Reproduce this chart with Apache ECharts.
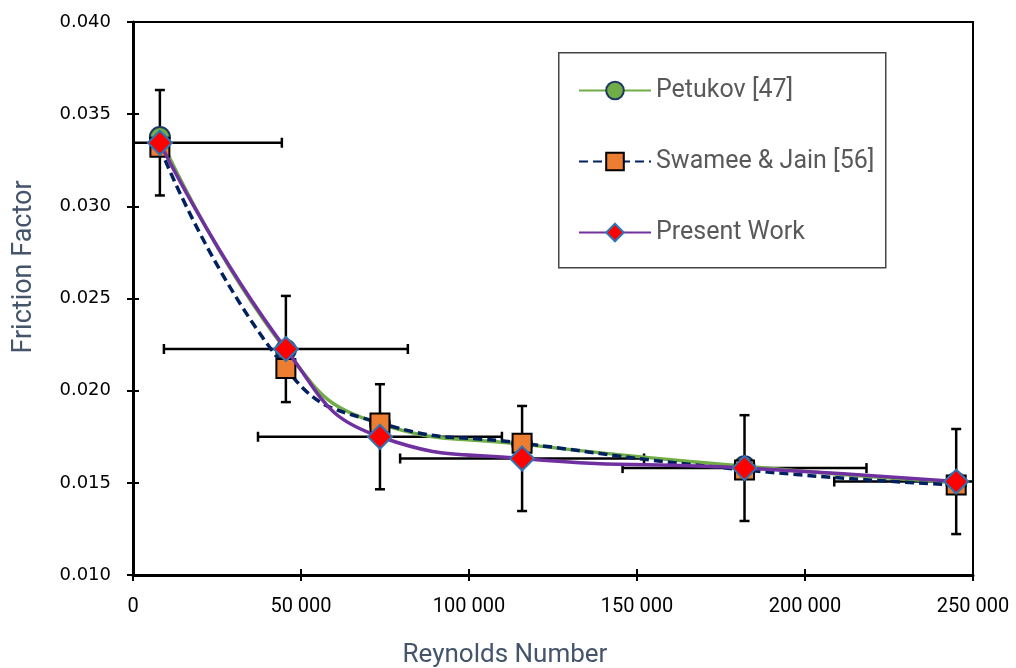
<!DOCTYPE html>
<html>
<head>
<meta charset="utf-8">
<script src="https://cdn.jsdelivr.net/npm/echarts@6/dist/echarts.min.js"></script>
<style>
  html, body { margin: 0; padding: 0; background: #fff; }
  #main { width: 1016px; height: 668px; }
</style>
</head>
<body>
<div id="main"></div>
<script>
// Reynolds number of each test point
const reynolds = [8000, 45500, 73500, 115800, 182000, 245000];
// friction factor, three sources
const petukov = [0.03376, 0.0222, 0.0182, 0.0171, 0.0159, 0.0150];
const swamee = [0.0332, 0.0212, 0.01825, 0.01715, 0.0157, 0.01488];
const present = [0.03345, 0.02226, 0.0175, 0.01632, 0.0158, 0.01507];
// error bar half widths (present work)
const xErr = [36300, 36300, 36300, 36300, 36300, 36300];
const yErr = [0.00286, 0.00288, 0.00285, 0.00285, 0.00287, 0.00285];
// axis ticks
const yTicks = { min: 0.010, max: 0.040, step: 0.005 };
const xTicks = { min: 0, max: 250000, step: 50000 };

const chart = echarts.init(document.getElementById('main'));

const pairs = (ys) => reynolds.map((x, i) => [x, ys[i]]);

const fmtX = (v) => (v === 0 ? '0' : (v / 1000) + ' 000');

function errorBars(params, api) {
  const x = api.value(0), y = api.value(1);
  const dx = api.value(2), dy = api.value(3);
  const top = api.coord([x, y + dy]);
  const bot = api.coord([x, y - dy]);
  const left = api.coord([x - dx, y]);
  const right = api.coord([x + dx, y]);
  const c = 5;
  const style = { stroke: '#000', lineWidth: 2.5 };
  const line = (x1, y1, x2, y2) => ({ type: 'line', shape: { x1, y1, x2, y2 }, style });
  return {
    type: 'group',
    children: [
      line(top[0], top[1], bot[0], bot[1]),
      line(top[0] - c, top[1], top[0] + c, top[1]),
      line(bot[0] - c, bot[1], bot[0] + c, bot[1]),
      line(left[0], left[1], right[0], right[1]),
      line(left[0], left[1] - c, left[0], left[1] + c),
      line(right[0], right[1] - c, right[0], right[1] + c)
    ]
  };
}

const baseX = {
  type: 'value', min: xTicks.min, max: xTicks.max, interval: xTicks.step,
  splitLine: { show: false }
};
const baseY = {
  type: 'value', min: yTicks.min, max: yTicks.max, interval: yTicks.step,
  splitLine: { show: false }
};

const option = {
  animation: false,
  backgroundColor: '#fff',
  grid: {
    left: 133, right: 43, top: 22, bottom: 93,
    show: true, borderColor: '#000', borderWidth: 2
  },
  xAxis: [
    Object.assign({}, baseX, {
      axisLine: { lineStyle: { color: '#000', width: 3 } },
      axisTick: { length: 6, lineStyle: { color: '#000', width: 2 } },
      axisLabel: {
        margin: 22, formatter: fmtX, color: '#000',
        fontFamily: 'Roboto', fontSize: 20
      }
    }),
    Object.assign({}, baseX, {
      position: 'bottom',
      axisLine: { show: false },
      axisTick: { inside: true, length: 6, lineStyle: { color: '#000', width: 2 } },
      axisLabel: { show: false }
    })
  ],
  yAxis: [
    Object.assign({}, baseY, {
      axisLine: { show: true, lineStyle: { color: '#000', width: 3 } },
      axisTick: { show: true, length: 6, lineStyle: { color: '#000', width: 2 } },
      axisLabel: {
        margin: 22, formatter: (v) => v.toFixed(3), color: '#000',
        fontFamily: 'DejaVu Sans', fontSize: 18
      }
    }),
    Object.assign({}, baseY, {
      position: 'left',
      axisLine: { show: false },
      axisTick: { show: true, inside: true, length: 6, lineStyle: { color: '#000', width: 2 } },
      axisLabel: { show: false }
    })
  ],
  legend: {
    orient: 'vertical',
    left: 573, top: 73,
    itemWidth: 72, itemHeight: 22, itemGap: 46,
    textStyle: { fontFamily: 'Roboto', fontSize: 25, color: '#595959' },
    data: ['Petukov [47]', 'Swamee & Jain [56]', 'Present Work']
  },
  graphic: [
    {
      type: 'rect', left: 558, top: 52, z: 0,
      shape: { width: 327, height: 215 },
      style: { fill: '#fff', stroke: '#454545', lineWidth: 1.5 }
    },
    {
      type: 'text', x: 24, y: 267, rotation: Math.PI / 2,
      style: {
        text: 'Friction Factor', fill: '#44546A', font: '27px Roboto',
        textAlign: 'center', textVerticalAlign: 'middle'
      }
    },
    {
      type: 'text', x: 505, y: 655,
      style: {
        text: 'Reynolds Number', fill: '#44546A', font: '26px Roboto',
        textAlign: 'center', textVerticalAlign: 'middle'
      }
    }
  ],
  series: [
    {
      type: 'custom', name: 'err', z: 1, clip: true,
      renderItem: errorBars,
      data: reynolds.map((x, i) => [x, present[i], xErr[i], yErr[i]]),
      encode: { x: 0, y: 1 }
    },
    {
      type: 'line', name: 'Petukov [47]', smooth: 0.5, z: 2,
      data: pairs(petukov),
      symbol: 'circle', symbolSize: 20,
      lineStyle: { color: '#70AD47', width: 3.5 },
      itemStyle: { color: '#70AD47', borderColor: '#1F3864', borderWidth: 2 }
    },
    {
      type: 'line', name: 'Swamee & Jain [56]', smooth: 0.5, z: 3,
      data: pairs(swamee),
      symbol: 'rect', symbolSize: 19,
      lineStyle: { color: '#002060', width: 3.5, type: [9, 5] },
      itemStyle: { color: '#ED7D31', borderColor: '#000', borderWidth: 2 }
    },
    {
      type: 'line', name: 'Present Work', smooth: 0.5, z: 4,
      data: pairs(present),
      symbol: 'diamond', symbolSize: 24,
      lineStyle: { color: '#7030A0', width: 3.5 },
      itemStyle: { color: '#FF0000', borderColor: '#2E75B6', borderWidth: 2 }
    }
  ]
};

chart.setOption(option);
</script>
</body>
</html>
